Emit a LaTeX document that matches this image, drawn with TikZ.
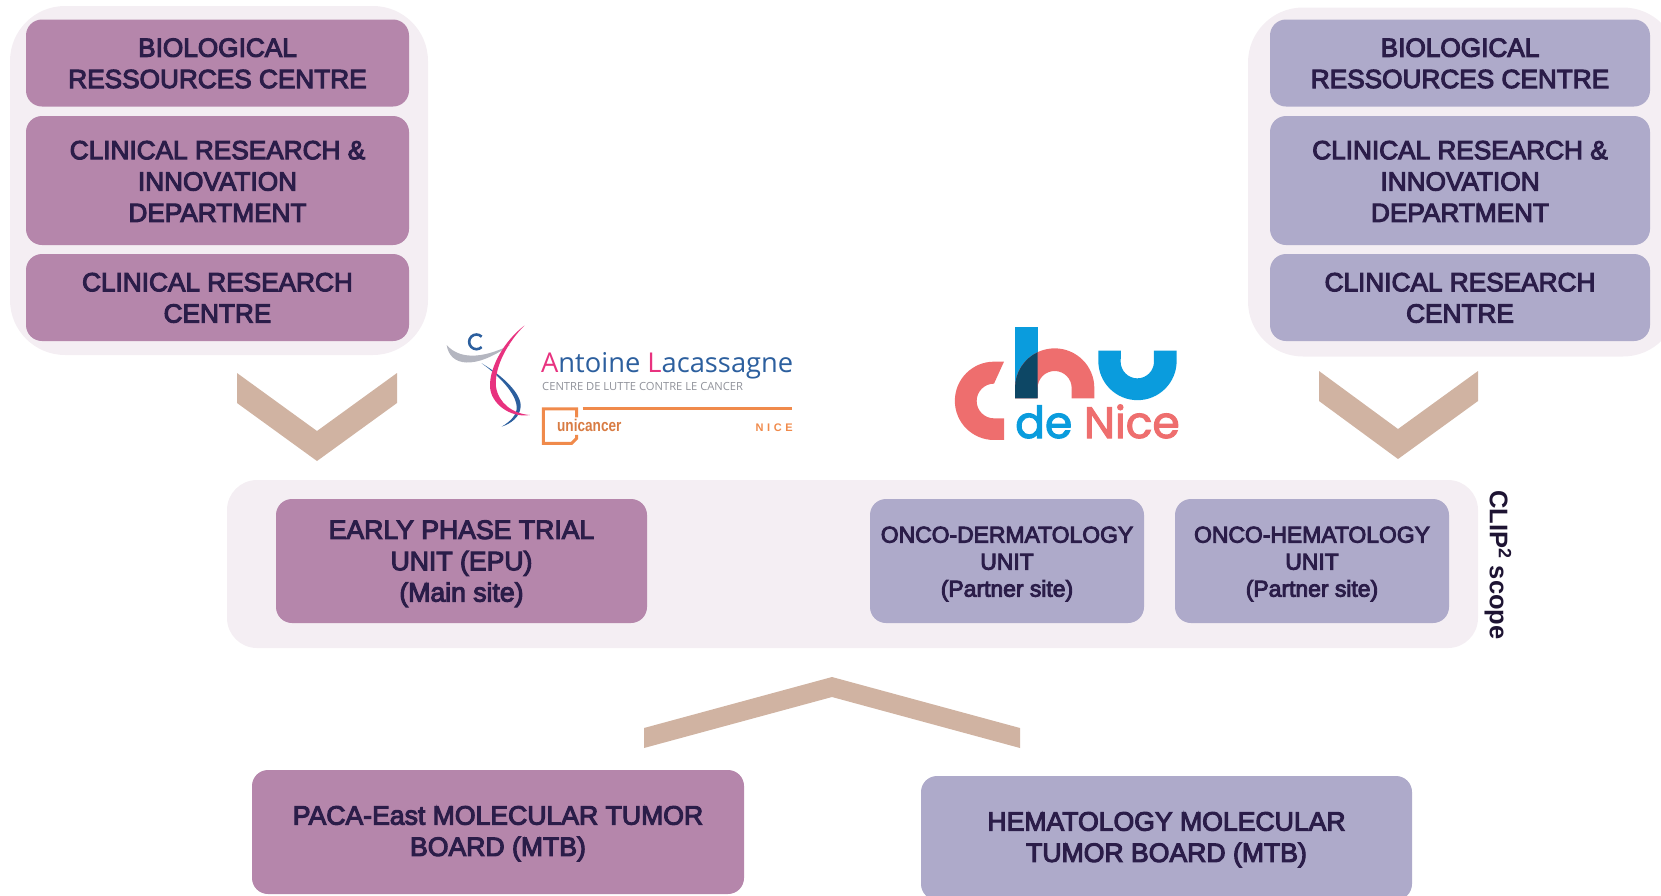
\documentclass[tikz,border=0pt]{standalone}
\usepackage{fontspec}
\setmainfont{Liberation Sans}
\newfontfamily\boxfont{Liberation Sans}[FakeBold=4]
\newfontfamily\chufont{Poppins}[FakeBold=2.4]
\newfontfamily\logofont{Open Sans}
\usetikzlibrary{positioning}
\definecolor{plum}{HTML}{B586AB}
\definecolor{lavender}{HTML}{AEAACA}
\definecolor{pale}{HTML}{F4EEF3}
\definecolor{tan}{HTML}{D0B3A2}
\definecolor{ink}{HTML}{2B1D49}
\definecolor{chured}{HTML}{EE6E6E}
\definecolor{chublue}{HTML}{0A9CDD}
\definecolor{chudark}{HTML}{0D4765}
\definecolor{alpink}{HTML}{E8327F}
\definecolor{alblue}{HTML}{2C5F9E}
\definecolor{algray}{HTML}{B4B6C0}
\definecolor{alorange}{HTML}{F08A4B}
\tikzstyle{panel}=[fill=pale,rounded corners=55pt,inner sep=0pt]
\tikzstyle{box}=[rounded corners=16pt,inner sep=0pt,align=center,text=ink,font=\boxfont\fontsize{26.2}{31.3}\selectfont]
\tikzstyle{plumbox}=[box,fill=plum]
\tikzstyle{lavbox}=[box,fill=lavender]
\tikzstyle{wide}=[font=\boxfont\fontsize{26.6}{31.3}\selectfont]
\tikzstyle{small}=[font=\boxfont\fontsize{22.9}{27}\selectfont]
\tikzstyle{chev}=[fill=tan]
\newcommand{\dn}[1]{\rule{0pt}{#1pt}}
\begin{document}
\begin{tikzpicture}[x=1pt,y=-1pt]
\clip (0,0) rectangle (1661,895);
% left stack
\node[panel,minimum width=418pt,minimum height=349pt] (panelL) at (219,180.5) {};
\node[plumbox,minimum width=383pt,minimum height=87pt] (bioL) at (217.5,63) {\dn{19}BIOLOGICAL\\RESSOURCES CENTRE};
\node[plumbox,minimum width=383pt,minimum height=129pt] (innoL) at (217.5,180.5) {\dn{20}CLINICAL RESEARCH \&\\INNOVATION\\DEPARTMENT};
\node[plumbox,minimum width=383pt,minimum height=87pt] (crcL) at (217.5,297.5) {\dn{19}CLINICAL RESEARCH\\CENTRE};
% right stack
\node[panel,minimum width=430pt,minimum height=349pt] (panelR) at (1463,182) {};
\node[lavbox,minimum width=380pt,minimum height=87pt] (bioR) at (1460,63) {\dn{19}BIOLOGICAL\\RESSOURCES CENTRE};
\node[lavbox,minimum width=380pt,minimum height=129pt] (innoR) at (1460,180.5) {\dn{20}CLINICAL RESEARCH \&\\INNOVATION\\DEPARTMENT};
\node[lavbox,minimum width=380pt,minimum height=87pt] (crcR) at (1460,297.5) {\dn{19}CLINICAL RESEARCH\\CENTRE};
% chevrons
\fill[chev] (237,373) -- (317,431) -- (397,373) -- (397,403) -- (317,461) -- (237,403) -- cycle;
\fill[chev] (1319,371) -- (1398,429) -- (1478,371) -- (1478,401) -- (1398,459) -- (1319,401) -- cycle;
\fill[chev] (644,728) -- (832,677) -- (1020,728) -- (1020,748) -- (832,697) -- (644,748) -- cycle;
% scope band
\node[panel,rounded corners=30pt,minimum width=1251pt,minimum height=168pt] (band) at (852.5,564) {};
\node[plumbox,wide,minimum width=371pt,minimum height=124pt] (epu) at (461.5,561) {\dn{24}EARLY PHASE TRIAL\\UNIT (EPU)\\(Main site)};
\node[lavbox,small,minimum width=274pt,minimum height=124pt] (derm) at (1007,561) {\dn{22}ONCO-DERMATOLOGY\\UNIT\\(Partner site)};
\node[lavbox,small,minimum width=274pt,minimum height=124pt] (hema) at (1312,561) {\dn{22}ONCO-HEMATOLOGY\\UNIT\\(Partner site)};
\node[rotate=-90,inner sep=0pt,text=ink!70!black,font=\bfseries\fontsize{25.5}{28}\selectfont] (clip) at (1498,565) {CLIP\textsuperscript{2} scope};
% tumor boards
\node[plumbox,wide,minimum width=492pt,minimum height=124pt] (mtbL) at (498,832) {\dn{22}PACA-East MOLECULAR TUMOR\\BOARD (MTB)};
\node[lavbox,wide,minimum width=491pt,minimum height=124pt] (mtbR) at (1166.5,838) {\dn{22}HEMATOLOGY MOLECULAR\\TUMOR BOARD (MTB)};
% logo left
\begin{scope}[shift={(430,310)},x=0.3333pt,y=-0.3333pt]
\fill[algray] (50,105) .. controls (60,170) and (135,180) .. (240,105) .. controls (150,150) and (85,145) .. cycle;
\fill[alblue] (155,160) .. controls (215,195) and (275,250) .. (272,290) .. controls (270,320) and (245,340) .. (215,350) .. controls (240,335) and (262,315) .. (260,290) .. controls (258,250) and (205,195) .. cycle;
\fill[alpink] (283,47) .. controls (225,90) and (178,170) .. (180,230) .. controls (182,280) and (240,325) .. (300,315) .. controls (250,312) and (205,280) .. (198,230) .. controls (192,170) and (235,95) .. cycle;
\draw[alblue,line width=2.6pt] (155,80) arc (-45:-315:22);
\draw[alorange,line width=3pt] (458,297) -- (1085,297);
\draw[alorange,line width=3pt] (440,322) -- (440,297) -- (340,297) -- (340,400) -- (425,400) -- (440,385) -- (440,375);
\end{scope}
\node[anchor=base west,inner sep=0pt,text=alblue,font=\logofont\fontsize{27.3}{30}\selectfont] (alname) at (541,372) {\textcolor{alpink}{A}ntoine \textcolor{alpink}{L}acassagne};
\node[anchor=base west,inner sep=0pt,text=algray!80!black,font=\logofont\fontsize{11.2}{12}\selectfont] (alsub) at (542,390) {CENTRE DE LUTTE CONTRE LE CANCER};
\node[anchor=base west,inner sep=0pt,text=alorange!90!black,xscale=0.8,font=\bfseries\fontsize{17}{18}\selectfont] (uni) at (557,431) {unicancer};
\node[anchor=base east,inner sep=0pt,text=alorange,font=\bfseries\fontsize{11}{12}\selectfont] (alnice) at (793,431) {N\,\,I\,\,C\,\,E};
% logo right
\begin{scope}[shift={(930,310)},x=0.3333pt,y=-0.3333pt]
\fill[chured] (222,155) -- (192,155) arc (270:90:117.5) -- (222,390) -- (222,325) -- (192,325) arc (90:270:52) -- cycle;
\fill[chublue] (255,50) rectangle (323,265);
\fill[chured] (255,265) -- (255,234) arc (180:360:119) -- (493,265) -- (425,265) -- (425,234) arc (360:180:51) -- (323,265) -- cycle;
\fill[chudark] (255,265) -- (255,234) arc (180:244.6:119) -- (323,265) -- cycle;
\fill[chublue] (505,122) -- (505,153) arc (180:0:117.5) -- (740,122) -- (672,122) -- (672,155) arc (0:180:50) -- (573,122) -- cycle;
\end{scope}
\node[anchor=base west,inner sep=0pt,font=\chufont\fontsize{44}{46}\selectfont] (chuname) at (1015,438) {\textcolor{chublue}{de} \textcolor{chured}{Nice}};
\end{tikzpicture}
\end{document}
